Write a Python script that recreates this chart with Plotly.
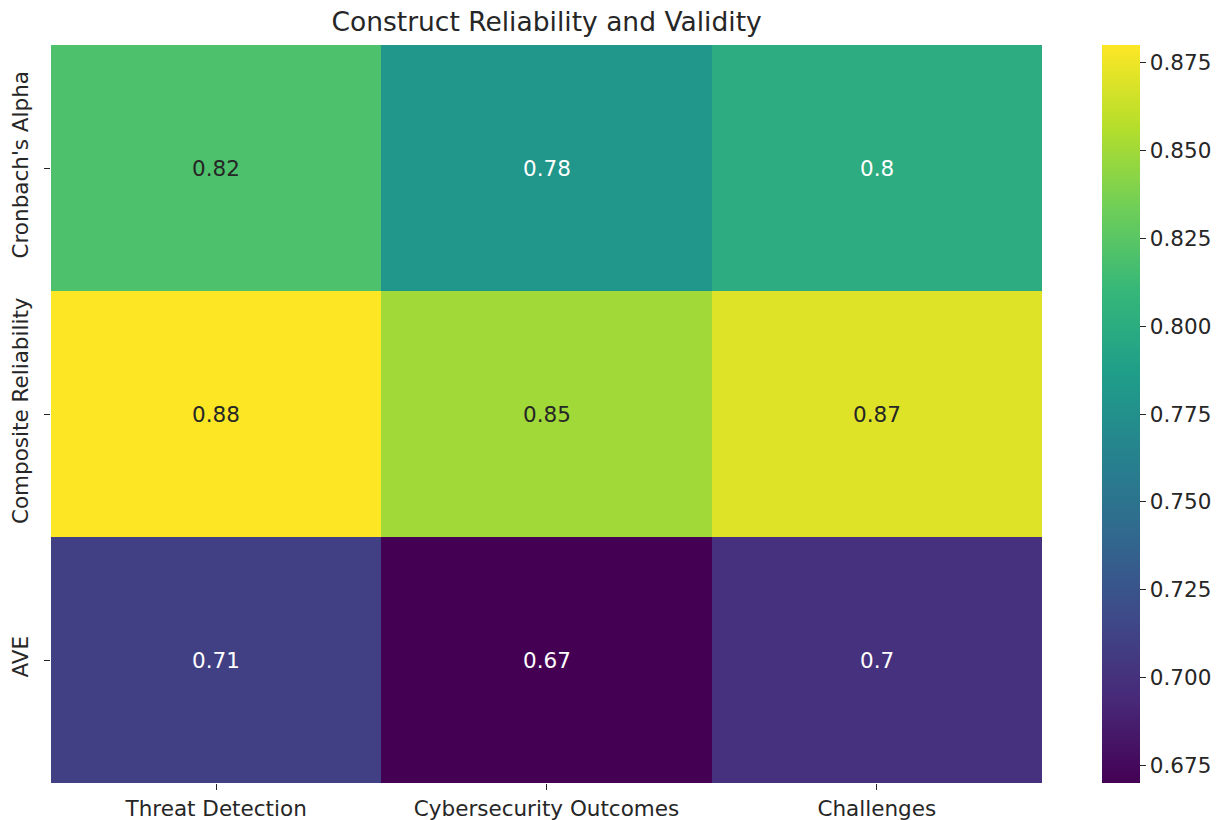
import plotly.graph_objects as go

constructs = ["Threat Detection", "Cybersecurity Outcomes", "Challenges"]
measures = ["Cronbach's Alpha", "Composite Reliability", "AVE"]
cronbach = [0.82, 0.78, 0.80]
composite = [0.88, 0.85, 0.87]
ave = [0.71, 0.67, 0.70]
z = [cronbach, composite, ave]
cb_ticks = [0.675, 0.700, 0.725, 0.750, 0.775, 0.800, 0.825, 0.850, 0.875]

FONT = "DejaVu Sans"
TS = 21.5
fig = go.Figure()
fig.add_trace(go.Heatmap(
    z=z, x=constructs, y=measures,
    colorscale="Viridis", zmin=0.67, zmax=0.88,
    xgap=0, ygap=0,
    colorbar=dict(
        x=1.0605, xanchor="left", xpad=0, ypad=0, y=0.5, yanchor="middle",
        len=1.0, lenmode="fraction", thickness=38,
        outlinewidth=0, ticks="outside", ticklen=6, tickwidth=1.3,
        tickcolor="#262626",
        tickvals=cb_ticks, ticktext=[f"{t:.3f}" for t in cb_ticks],
        tickfont=dict(family=FONT, size=TS, color="#262626"),
    ),
    hoverinfo="skip",
))

annotations = []
for i, m in enumerate(measures):
    for j, c in enumerate(constructs):
        v = z[i][j]
        col = "#262626" if v >= 0.82 else "white"
        annotations.append(dict(
            x=c, y=m, text=f"{v:g}", showarrow=False,
            font=dict(family=FONT, size=TS, color=col),
        ))

fig.update_layout(
    width=1228, height=820,
    margin=dict(l=51, r=186, t=45, b=37, autoexpand=False),
    paper_bgcolor="white", plot_bgcolor="white",
    title=dict(text="Construct Reliability and Validity", x=0.4451, xanchor="center",
               y=1 - 22 / 820, yanchor="middle", yref="container",
               font=dict(family=FONT, size=26.5, color="#262626")),
    annotations=annotations,
    xaxis=dict(ticks="outside", ticklen=6, tickwidth=1.3, tickcolor="#262626",
               tickfont=dict(family=FONT, size=TS, color="#262626"),
               showgrid=False, zeroline=False, showline=False, automargin=False),
    yaxis=dict(autorange="reversed", ticks="outside", ticklen=6, tickwidth=1.3,
               tickcolor="#262626", tickangle=-90, ticklabelstandoff=7,
               tickfont=dict(family=FONT, size=TS, color="#262626"),
               showgrid=False, zeroline=False, showline=False, automargin=False),
)

fig.write_html("out.html", config={"displayModeBar": False},
               post_script="document.body.style.margin='0';document.body.style.overflow='hidden';")
